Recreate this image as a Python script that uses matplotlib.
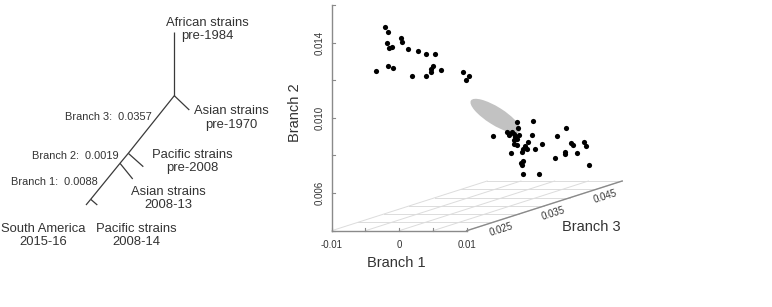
import numpy as np
import matplotlib.pyplot as plt
from matplotlib.patches import Ellipse

plt.rcParams['font.family'] = ['Liberation Sans', 'DejaVu Sans']

TEXT = '#333333'

# ---- tree (schematic, not to scale) ----
tip_labels = ['African strains\npre-1984', 'Asian strains\npre-1970',
              'Pacific strains\npre-2008', 'Asian strains\n2008-13',
              'South America\n2015-16', 'Pacific strains\n2008-14']
branch_names = ['Branch 3', 'Branch 2', 'Branch 1']
branch_lengths = [0.0357, 0.0019, 0.0088]

# layout of the drawing, in pixels
node_pos = {
    'root': (174.3, 95.7), 'african': (174.3, 31.7), 'asia70': (189.3, 110.0),
    'n2': (128.3, 153.3), 'pac08': (143.3, 166.7), 'n1': (120.0, 163.3),
    'asia13': (132.7, 179.0), 'n0': (90.7, 199.3), 'sam': (86.0, 205.0),
    'pac14': (97.3, 205.0),
}
edges = [('root', 'african'), ('root', 'asia70'), ('root', 'n2'), ('n2', 'pac08'),
         ('n2', 'n1'), ('n1', 'asia13'), ('n1', 'n0'), ('n0', 'sam'), ('n0', 'pac14')]
tip_label_pos = [(207.3, 29.5), (231.0, 118.0), (192.0, 161.7), (168.3, 198.5),
                 (43.3, 235.5), (136.3, 235.5)]
branch_label_pos = [(151.7, 117.3), (118.3, 156.0), (97.3, 182.3)]

# ---- posterior samples of branch lengths ----
branch1 = [-0.00594, -0.00554, -0.00357, -0.00347, -0.00560, -0.00486, -0.00531, -0.00258,
           -0.00101, 0.00013, 0.00146, -0.00728, -0.00554, -0.00480, -0.00190, 0.00013,
           0.00112, 0.00092, 0.00087, 0.00240, 0.00557, 0.00646, 0.00601,
           0.00293, 0.00051, -0.00295, -0.00092, -0.00070, -0.00023, 0.00004, 0.00026,
           0.00056, 0.00090, 0.00004, 0.00011, 0.00051, 0.00274, 0.00475, 0.00337,
           0.00226, 0.00422, 0.00323, 0.00174, 0.00149, 0.00200, 0.00126, -0.00029,
           0.00544, 0.00574, 0.00742, 0.00767, 0.00453, 0.00467, 0.00633, 0.00312,
           0.00145, 0.00111, 0.00126, 0.00819, 0.00148, 0.00377, 0.00078]
branch2 = [0.01437, 0.01411, 0.01379, 0.01361, 0.01352, 0.01331, 0.01326, 0.01324,
           0.01311, 0.01296, 0.01296, 0.01205, 0.01232, 0.01219, 0.01179, 0.01179,
           0.01233, 0.01214, 0.01201, 0.01212, 0.01198, 0.01179, 0.01157,
           0.00792, 0.00782, 0.00712, 0.00731, 0.00713, 0.00733, 0.00722, 0.00704,
           0.00695, 0.00713, 0.00686, 0.00669, 0.00662, 0.00715, 0.00715, 0.00674,
           0.00679, 0.00665, 0.00638, 0.00659, 0.00642, 0.00638, 0.00625, 0.00617,
           0.00636, 0.00624, 0.00640, 0.00622, 0.00592, 0.00579, 0.00583, 0.00555,
           0.00576, 0.00568, 0.00553, 0.00519, 0.00507, 0.00509, 0.00752]
branch3 = [0.025] * 23 + [0.042] * 14 + [0.046, 0.046] + [0.042] * 8 + [0.046] * 8 + \
          [0.042] * 3 + [0.046] + [0.042] * 3

# prior region (centre in branch units)
prior_center = (0.00275, 0.00878, 0.035)

B1_LIM = (-0.01, 0.01)
B2_LIM = (0.004, 0.016)
B3_LIM = (0.02, 0.05)
b1_ticks = [-0.01, -0.005, 0, 0.005, 0.01]
b1_ticklabels = ['-0.01', '', '0', '', '0.01']
b2_ticks = [0.004, 0.006, 0.008, 0.010, 0.012, 0.014, 0.016]
b2_ticklabels = ['', '0.006', '', '0.010', '', '0.014', '']
b3_grid = [0.02, 0.025, 0.03, 0.035, 0.04, 0.045, 0.05]
b3_ticklabels = {0.025: '0.025', 0.035: '0.035', 0.045: '0.045'}

# oblique projection onto the page (pixel units)
ORIGIN = (331.7, 230.7)
B1_LEN = 135.0
B2_LEN = 225.7
B3_VEC = (155.5, -49.7)


def project(b1, b2, b3):
    f1 = (np.asarray(b1, float) - B1_LIM[0]) / (B1_LIM[1] - B1_LIM[0])
    f2 = (np.asarray(b2, float) - B2_LIM[0]) / (B2_LIM[1] - B2_LIM[0])
    f3 = (np.asarray(b3, float) - B3_LIM[0]) / (B3_LIM[1] - B3_LIM[0])
    x = ORIGIN[0] + f1 * B1_LEN + f3 * B3_VEC[0]
    y = ORIGIN[1] - f2 * B2_LEN + f3 * B3_VEC[1]
    return x, y


fig = plt.figure(figsize=(7.72, 3.07), dpi=100)
ax = fig.add_axes([0, 0, 1, 1])
ax.set_xlim(0, 772)
ax.set_ylim(307, 0)
ax.axis('off')

# tree
for a, b in edges:
    (x0, y0), (x1, y1) = node_pos[a], node_pos[b]
    ax.plot([x0, x1], [y0, y1], color='#3a3a3a', lw=0.9, solid_capstyle='butt')
for lab, (x, y) in zip(tip_labels, tip_label_pos):
    ax.text(x, y, lab, ha='center', va='center', fontsize=9.4, color=TEXT,
            linespacing=1.15)
for name, val, (x, y) in zip(branch_names, branch_lengths, branch_label_pos):
    ax.text(x, y, f'{name}:  {val:.4f}', ha='right', va='center', fontsize=7.9,
            color=TEXT)

# floor grid
for v in b3_grid:
    x, y = project(B1_LIM, [B2_LIM[0]] * 2, [v, v])
    ax.plot(x, y, color='#dcdcdc', lw=0.7, zorder=1)
for v in b1_ticks:
    x, y = project([v, v], [B2_LIM[0]] * 2, B3_LIM)
    ax.plot(x, y, color='#dcdcdc', lw=0.7, zorder=1)

AXC = '#8a8a8a'
# Branch 1 axis
x, y = project(B1_LIM, [B2_LIM[0]] * 2, [B3_LIM[0]] * 2)
ax.plot(x, y, color=AXC, lw=1.0, zorder=2)
for v, lab in zip(b1_ticks, b1_ticklabels):
    tx, ty = project(v, B2_LIM[0], B3_LIM[0])
    ax.plot([tx, tx], [ty, ty - 3], color=AXC, lw=0.8, zorder=2)
    if lab:
        ax.text(tx, ty + 14.3, lab, ha='center', va='center', fontsize=7, color=TEXT)
# Branch 2 axis
x, y = project([B1_LIM[0]] * 2, B2_LIM, [B3_LIM[0]] * 2)
ax.plot(x, y, color=AXC, lw=1.0, zorder=2)
for v, lab in zip(b2_ticks, b2_ticklabels):
    tx, ty = project(B1_LIM[0], v, B3_LIM[0])
    ax.plot([tx, tx + 3], [ty, ty], color=AXC, lw=0.8, zorder=2)
    if lab:
        ax.text(tx - 11.7, ty, lab, ha='center', va='center', rotation=90,
                fontsize=7, color=TEXT)
# Branch 3 axis
x, y = project([B1_LIM[1]] * 2, [B2_LIM[0]] * 2, B3_LIM)
ax.plot(x, y, color=AXC, lw=1.0, zorder=2)
ang = np.degrees(np.arctan2(-B3_VEC[1], B3_VEC[0]))
for v, lab in b3_ticklabels.items():
    tx, ty = project(B1_LIM[1], B2_LIM[0], v)
    ax.text(tx + 9, ty + 7.5, lab, ha='center', va='center', rotation=ang,
            fontsize=7, color=TEXT)

ax.text(396, 263, 'Branch 1', ha='center', va='center', fontsize=10.5, color=TEXT)
ax.text(591, 227, 'Branch 3', ha='center', va='center', fontsize=10.5, color=TEXT)
ax.text(295, 113, 'Branch 2', ha='center', va='center', rotation=90,
        fontsize=10.5, color=TEXT)

# prior ellipse and samples
cx, cy = project(*prior_center)
ax.add_patch(Ellipse((float(cx), float(cy)), 58, 18, angle=32,
                     facecolor='#c2c2c2', edgecolor='none', zorder=3))
px, py = project(branch1, branch2, branch3)
ax.scatter(px, py, s=14, color='black', linewidths=0, zorder=4)

fig.savefig('out.png', dpi=100)
